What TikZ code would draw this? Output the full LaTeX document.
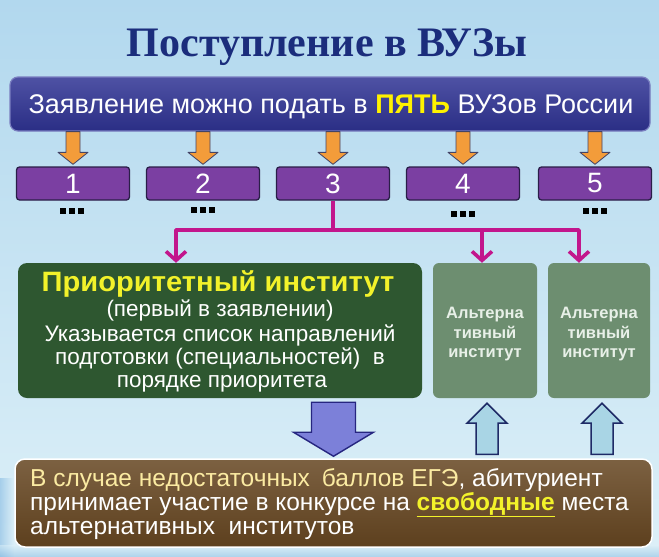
\documentclass[tikz,border=0pt]{standalone}
\usepackage{fontspec}
\setmainfont{Liberation Sans}
\newfontfamily\titlefont{Liberation Serif}
\usetikzlibrary{arrows.meta,calc}
\definecolor{bgtop}{HTML}{B2D8EE}
\definecolor{bgmid}{HTML}{E6F5FA}
\definecolor{bgbot}{HTML}{DDF0F8}
\definecolor{titleblue}{HTML}{1B2D7C}
\definecolor{topfill}{HTML}{2F3394}
\definecolor{topedge}{HTML}{7A7EC0}
\definecolor{orangefill}{HTML}{F39C3A}
\definecolor{orangeedge}{HTML}{454466}
\definecolor{numfill}{HTML}{7B3FA2}
\definecolor{numedge}{HTML}{2A1E48}
\definecolor{magenta}{HTML}{C2168C}
\definecolor{prioFill}{HTML}{2E5730}
\definecolor{altFill}{HTML}{6D8E70}
\definecolor{periFill}{HTML}{7C80D9}
\definecolor{periEdge}{HTML}{262680}
\definecolor{lbFill}{HTML}{A9D5E5}
\definecolor{lbEdge}{HTML}{1E2A66}
\definecolor{brownFill}{HTML}{654520}
\definecolor{yellowA}{HTML}{F2F22A}
\definecolor{paleYellow}{HTML}{FBEBA2}
\definecolor{altText}{HTML}{E8F0E8}
\definecolor{cornerBlue}{HTML}{7FB6E0}
\newcommand\varrowblk[6]{%
  \draw[#1] let \p1=#2, \p2=#3 in
    (\x2-#4,\y1) -- (\x2+#4,\y1) -- (\x2+#4,\y2+#6) -- (\x2+#5,\y2+#6) --
    (\x2,\y2) -- (\x2-#5,\y2+#6) -- (\x2-#4,\y2+#6) -- cycle;}
\newcommand\dotrow[3]{% x, y, name prefix
  \foreach \dd in {-9,0,9}{\fill (#1+\dd-2.75,#2-2.75) rectangle (#1+\dd+2.75,#2+2.75);}}
\tikzset{
  topbox/.style={draw=topedge, line width=1.2pt, rounded corners=8pt,
    top color=topfill!85!white, bottom color=topfill!90!black,
    minimum width=640pt, minimum height=54pt, inner sep=0pt},
  numbox/.style={draw=numedge, line width=1.3pt, fill=numfill, rounded corners=3pt,
    minimum width=113pt, minimum height=33pt, inner sep=0pt,
    text=white, font=\fontsize{28}{30}\selectfont},
  orarrow/.style={fill=orangefill, draw=orangeedge, line width=0.8pt, line join=round},
  magline/.style={draw=magenta, line width=3.6pt, line join=round},
  magarr/.style={magline, -{Straight Barb[length=9pt,width=20pt]}},
  priobox/.style={fill=prioFill, rounded corners=9pt, minimum width=404pt,
    minimum height=135pt, inner sep=0pt},
  altbox/.style={fill=altFill, rounded corners=6pt, minimum height=135pt, inner sep=0pt},
  prioline/.style={anchor=base, inner sep=0pt, text=white, font=\fontsize{22.5}{24}\selectfont},
  altline/.style={anchor=base, inner sep=0pt, text=altText, font=\bfseries\fontsize{16.5}{18}\selectfont},
  periarrow/.style={fill=periFill, draw=periEdge, line width=1.4pt, line join=miter},
  lbarrow/.style={fill=lbFill, draw=lbEdge, line width=1.5pt, line join=miter},
  brownbox/.style={draw=white, line width=1.5pt, rounded corners=10pt,
    top color=brownFill!85!white, bottom color=brownFill!92!black,
    minimum width=637pt, minimum height=88pt, inner sep=0pt},
  brownline/.style={anchor=base west, inner sep=0pt, text=white, font=\fontsize{24.5}{26}\selectfont},
}
\begin{document}
\begin{tikzpicture}[x=1pt,y=-1pt]
\useasboundingbox (0,0) rectangle (659,557);
% background
\shade[top color=bgtop, middle color=bgmid, bottom color=bgbot] (0,0) rectangle (659,557);
\shade[left color=cornerBlue, right color=bgbot, opacity=0.55] (0,478) rectangle (14,557);
\shade[top color=bgbot, bottom color=cornerBlue, opacity=0.5] (0,545) rectangle (659,557);
% title
\node[anchor=base, inner sep=0pt, text=titleblue, font=\titlefont\bfseries\fontsize{42}{46}\selectfont]
  (title) at (327,56) {Поступление в ВУЗы};
% top box
\node[topbox] (top) at (330,104) {};
\node[anchor=base, inner sep=0pt, text=white, font=\fontsize{27}{30}\selectfont]
  (toptext) at (331,113.5) {Заявление можно подать в \textcolor{yellow}{\bfseries ПЯТЬ} ВУЗов России};
% number boxes
\foreach \i/\x in {1/73,2/203,3/333,4/463,5/595}{
  \node[numbox] (b\i) at (\x,183.5) {\i};
  \varrowblk{orarrow}{(b\i.north |- top.south)}{([yshift=2pt]b\i.north)}{7pt}{15pt}{12pt}
}
% dots
\dotrow{72}{211}{d1}
\dotrow{203}{210}{d2}
\dotrow{463}{214}{d4}
\dotrow{595}{211}{d5}
% priority and alternative boxes
\node[priobox] (prio) at (220,330.5) {};
\node[altbox, minimum width=104pt] (alt1) at (485,330.5) {};
\node[altbox, minimum width=102pt] (alt2) at (599,330.5) {};
% magenta connectors
\coordinate (j) at (333,230);
\draw[magline] (b3.south) -- (j);
\draw[magarr] (j) -| ([xshift=-44pt]prio.north);
\draw[magarr] (j) -| ([xshift=-3pt]alt1.north);
\draw[magarr] (j) -| ([xshift=-20pt]alt2.north);
% priority text
\node[prioline, text=yellowA, font=\bfseries\fontsize{28}{30}\selectfont] (pt1) at (218,291) {\scalebox{1.04}[1]{Приоритетный институт}};
\node[prioline] (pt2) at (220,316) {(первый в заявлении)};
\node[prioline] (pt3) at (220,341) {Указывается список направлений};
\node[prioline] (pt4) at (220,364) {подготовки (специальностей)\ \ в};
\node[prioline] (pt5) at (222,387) {порядке приоритета};
% alternative text
\foreach \n/\x in {1/485,2/599}{
  \node[altline] at (\x,318) {Альтерна};
  \node[altline] at (\x,338) {тивный};
  \node[altline] at (\x,357) {институт};
}
% brown box
\node[brownbox] (brown) at (333.5,503) {};
% block arrows
\varrowblk{periarrow}{([yshift=-4pt]prio.south)}{([yshift=2pt]brown.north)}{22pt}{40pt}{24pt}
\varrowblk{lbarrow}{([xshift=2pt,yshift=4pt]alt1.south |- brown.north)}{([xshift=2pt,yshift=-5pt]alt1.south)}{11pt}{20pt}{-20pt}
\varrowblk{lbarrow}{([xshift=3pt,yshift=4pt]alt2.south |- brown.north)}{([xshift=3pt,yshift=-5pt]alt2.south)}{11pt}{20pt}{-20pt}
% brown text
\node[brownline] (bt1) at (30,486) {\textcolor{paleYellow}{В случае недостаточных\hspace{12pt}баллов ЕГЭ}, абитуриент};
\node[brownline] (bt2) at (30,510) {принимает участие в конкурсе на \textcolor{yellowA}{\bfseries\underline{свободные}} места};
\node[brownline] (bt3) at (30,534) {альтернативных\ \ институтов};
\end{tikzpicture}
\end{document}
